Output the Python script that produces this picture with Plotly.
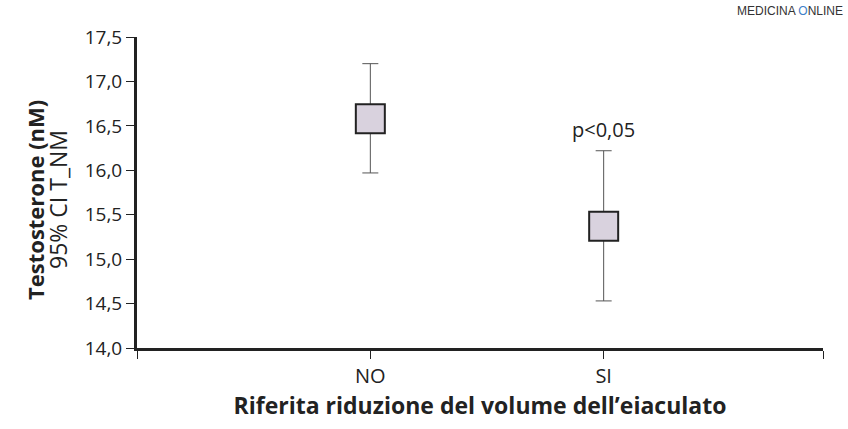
import plotly.graph_objects as go

# Dati
gruppi = ["NO", "SI"]
pos_x = [1, 2]
media = [16.58, 15.37]
ci_sup = [17.20, 16.22]
ci_inf = [15.97, 14.53]

y_ticks = [14.0, 14.5, 15.0, 15.5, 16.0, 16.5, 17.0, 17.5]

err_plus = [s - m for s, m in zip(ci_sup, media)]
err_minus = [m - i for m, i in zip(media, ci_inf)]

font_fam = "Open Sans, Noto Sans, sans-serif"

fig = go.Figure()
fig.add_trace(go.Scatter(
    x=pos_x, y=media, mode="markers",
    marker=dict(symbol="square", size=29, color="#d9d2de",
                line=dict(color="#222222", width=2)),
    error_y=dict(type="data", symmetric=False, array=err_plus,
                 arrayminus=err_minus, width=8, thickness=1, color="#555555"),
    showlegend=False, hoverinfo="skip",
))

# nota di significatività sopra SI
fig.add_annotation(x=pos_x[1], y=ci_sup[1], text="p<0,05", showarrow=False,
                   yanchor="bottom", yshift=6,
                   font=dict(family=font_fam, size=20, color="#222222"))

# titolo asse y su due righe (grassetto + normale)
fig.add_annotation(xref="paper", yref="paper", x=0, y=0.476, xshift=-102,
                   xanchor="center", yanchor="middle", textangle=-90, showarrow=False,
                   text="<b>Testosterone (nM)</b>",
                   font=dict(family=font_fam, size=22, color="#222222"))
fig.add_annotation(xref="paper", yref="paper", x=0, y=0.476, xshift=-79,
                   xanchor="center", yanchor="middle", textangle=-90, showarrow=False,
                   text="95% CI T_NM",
                   font=dict(family=font_fam, size=23, color="#222222"))

# marchio in alto a destra
fig.add_annotation(xref="paper", yref="paper", x=1.0, y=1.0, xshift=22, yshift=35,
                   xanchor="right", yanchor="top", showarrow=False,
                   text="MEDICINA <span style='color:#3f7fc8'>O</span>NLINE",
                   font=dict(family="Liberation Sans, Arial, sans-serif", size=12, color="#333333"))

fig.update_layout(
    width=848, height=429,
    margin=dict(l=137, r=25, t=37, b=81),
    paper_bgcolor="white", plot_bgcolor="white",
    separators=",.",
    font=dict(family=font_fam, color="#222222"),
    xaxis=dict(
        range=[0, 2.94],
        tickvals=[0] + pos_x + [2.94], ticktext=[""] + gruppi + [""],
        ticks="outside", ticklen=8, tickwidth=1, tickcolor="#222222",
        showline=True, linecolor="#222222", linewidth=3,
        showgrid=False, zeroline=False,
        tickfont=dict(size=20),
        title=dict(text="<b>Riferita riduzione del volume dell’eiaculato</b>",
                   font=dict(size=23), standoff=6),
    ),
    yaxis=dict(
        range=[14.0, 17.5], tickvals=y_ticks, tickformat=".1f",
        ticks="outside", ticklen=8, tickwidth=1, tickcolor="#222222",
        showline=True, linecolor="#222222", linewidth=3,
        showgrid=False, zeroline=False,
        tickfont=dict(size=19),
    ),
)

fig.write_html("out.html", config={"displayModeBar": False},
               post_script="document.body.style.margin='0';")
